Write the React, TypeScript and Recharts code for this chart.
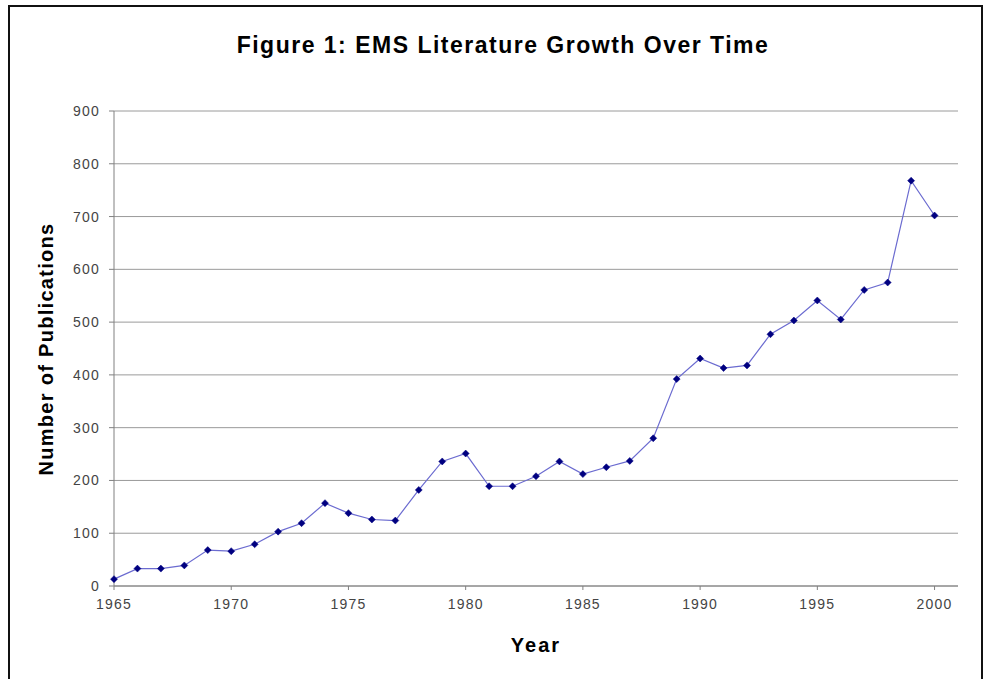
import React from 'react';
import { LineChart, Line, XAxis, YAxis, CartesianGrid } from 'recharts';

const years = [
  1965, 1966, 1967, 1968, 1969, 1970, 1971, 1972, 1973, 1974, 1975, 1976,
  1977, 1978, 1979, 1980, 1981, 1982, 1983, 1984, 1985, 1986, 1987, 1988,
  1989, 1990, 1991, 1992, 1993, 1994, 1995, 1996, 1997, 1998, 1999, 2000,
];
const publications = [
  13, 33, 33, 39, 68, 66, 79, 103, 119, 157, 138, 126,
  124, 182, 236, 251, 189, 189, 208, 236, 212, 225, 237, 280,
  392, 431, 413, 418, 477, 503, 541, 505, 561, 575, 768, 702,
];
const xTicks = [1965, 1970, 1975, 1980, 1985, 1990, 1995, 2000];
const yTicks = [0, 100, 200, 300, 400, 500, 600, 700, 800, 900];

const data = years.map((year, i) => ({ year, count: publications[i] }));

const font = '"Liberation Sans", Arial, sans-serif';
const tickStyle = { fontSize: 14, fill: '#444', fontFamily: font, letterSpacing: 1.2 };

const Diamond = (props: any) => {
  const { cx, cy } = props;
  if (cx == null || cy == null) return null;
  const r = 3.5;
  return (
    <path
      d={`M${cx},${cy - r} L${cx + r},${cy} L${cx},${cy + r} L${cx - r},${cy} Z`}
      fill="#000080"
      stroke="#000080"
      strokeWidth={0.5}
    />
  );
};

const App: React.FC = () => {
  return (
    <div style={{ position: 'absolute', left: 0, top: 0, width: 986, height: 679, background: '#fff', overflow: 'hidden', fontFamily: font }}>
      <div style={{ position: 'absolute', left: 8, top: 5, width: 971, height: 700, border: '2px solid #111' }} />
      <div
        style={{
          position: 'absolute',
          left: 503,
          top: 45,
          transform: 'translate(-50%, -50%)',
          whiteSpace: 'nowrap',
          fontSize: 23,
          letterSpacing: 1.5,
          fontWeight: 'bold',
          color: '#000',
        }}
      >
        Figure 1: EMS Literature Growth Over Time
      </div>
      <div
        style={{
          position: 'absolute',
          left: 46,
          top: 349,
          transform: 'translate(-50%, -50%) rotate(-90deg)',
          whiteSpace: 'nowrap',
          fontSize: 20,
          letterSpacing: 1.3,
          fontWeight: 'bold',
          color: '#000',
        }}
      >
        Number of Publications
      </div>
      <div
        style={{
          position: 'absolute',
          left: 536,
          top: 645,
          transform: 'translate(-50%, -50%)',
          fontSize: 20,
          letterSpacing: 2,
          fontWeight: 'bold',
          color: '#000',
        }}
      >
        Year
      </div>
      <div style={{ position: 'absolute', left: 0, top: 0 }}>
        <LineChart width={986} height={679} data={data} margin={{ top: 111, right: 28, left: 54, bottom: 63 }}>
          <CartesianGrid vertical={false} stroke="#9a9a9a" horizontalValues={yTicks} />
          <XAxis
            dataKey="year"
            type="number"
            domain={[1965, 2001]}
            ticks={xTicks}
            height={30}
            stroke="#808080"
            tickSize={4}
            tick={tickStyle}
            tickMargin={9}
            interval={0}
          />
          <YAxis
            type="number"
            domain={[0, 900]}
            ticks={yTicks}
            width={60}
            stroke="#808080"
            tickSize={5}
            tickMargin={9}
            tick={tickStyle}
            interval={0}
          />
          <Line
            type="linear"
            dataKey="count"
            stroke="#6b6bd0"
            strokeWidth={1.2}
            dot={<Diamond />}
            activeDot={false}
            isAnimationActive={false}
          />
        </LineChart>
      </div>
    </div>
  );
};

export default App;
